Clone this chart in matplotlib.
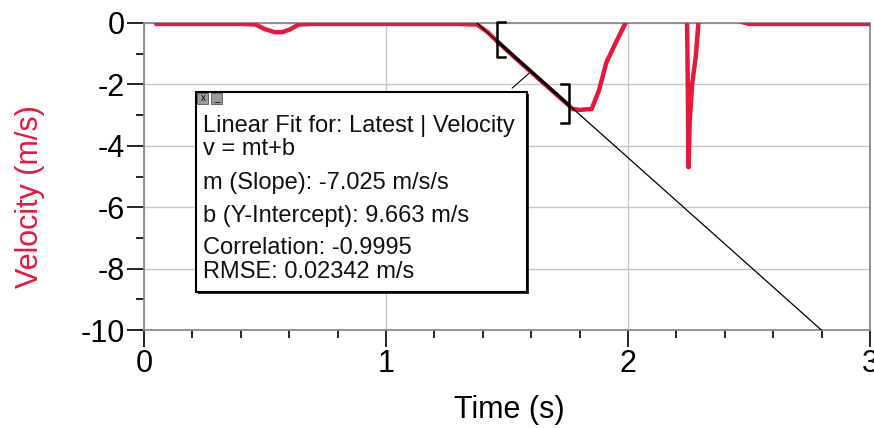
import numpy as np
import matplotlib
matplotlib.use("Agg")
from matplotlib import pyplot as plt
from matplotlib.patches import Rectangle

plt.rcParams['font.family'] = ['Liberation Sans', 'DejaVu Sans']
plt.rcParams['axes.unicode_minus'] = False

# velocity readings (s, m/s)
time = [0.05, 0.2, 0.4, 0.46, 0.5, 0.54, 0.57, 0.6, 0.64, 0.7, 1.0, 1.3, 1.376,
        1.42, 1.46, 1.55, 1.65, 1.75, 1.77, 1.8, 1.85, 1.88, 1.91, 1.955, 1.99, 2.02,
        2.1, 2.2, 2.244, 2.247, 2.25, 2.255, 2.265, 2.28, 2.292, 2.35, 2.5, 2.8, 3.0]
velocity = [-0.03, -0.03, -0.03, -0.05, -0.2, -0.3, -0.3, -0.22, -0.05, -0.03, -0.03, -0.03, -0.05,
            -0.3, -0.6, -1.25, -1.95, -2.65, -2.8, -2.83, -2.8, -2.2, -1.3, -0.55, 0.0, 0.3,
            0.3, 0.3, 0.1, -2.0, -4.7, -3.2, -2.0, -1.1, 0.1, 0.3, -0.03, -0.03, -0.03]

slope = -7.025
intercept = 9.663
fit_start, fit_end = 1.376, 2.8
sel_start, sel_end = 1.46, 1.755

fit_lines = ["Linear Fit for: Latest | Velocity",
             "v = mt+b",
             "m (Slope): -7.025 m/s/s",
             "b (Y-Intercept): 9.663 m/s",
             "Correlation: -0.9995",
             "RMSE: 0.02342 m/s"]

red = '#e8173c'
gray = '#8a8a8a'

fig = plt.figure(figsize=(8.74, 4.28), dpi=100)
ax = fig.add_axes([144 / 874, 1 - 330 / 428, 726 / 874, 307 / 428])

ax.plot(time, velocity, color=red, lw=3.2, solid_capstyle='round', zorder=3)

# fit line, thin over full range, thick over the selection
tf = np.array([fit_start, fit_end])
ax.plot(tf, slope * tf + intercept, color='black', lw=0.9, zorder=4)
ts = np.array([sel_start, sel_end])
ax.plot(ts, slope * ts + intercept, color='black', lw=2.2, zorder=4)

# selection brackets
ax.plot([sel_start + 0.03, sel_start, sel_start, sel_start + 0.03],
        [0.02, 0.02, -1.12, -1.12], color='black', lw=1.8, zorder=5, clip_on=False)
ax.plot([sel_end - 0.03, sel_end, sel_end, sel_end - 0.03],
        [-2.0, -2.0, -3.25, -3.25], color='black', lw=1.8, zorder=5)

ax.set_xlim(0, 3)
ax.set_ylim(-10, 0)
ax.set_xticks([0, 1, 2, 3])
ax.set_xticks(np.arange(0, 3.01, 0.2), minor=True)
ax.set_yticks([0, -2, -4, -6, -8, -10])
ax.set_yticks(np.arange(-9, 0, 2), minor=True)
ax.grid(True, which='major', color='#c8c8c8', lw=1)
for s in ax.spines.values():
    s.set_color(gray)
    s.set_linewidth(1.3)
ax.tick_params(which='major', direction='out', length=12, width=1.2, color='black',
               labelsize=22, pad=2)
ax.tick_params(which='minor', direction='out', length=6, width=1.2, color='black')
ax.set_xlabel('Time (s)', fontsize=22)
ax.set_ylabel('Velocity (m/s)', fontsize=22, color=red)
ax.xaxis.set_label_coords((509 - 144) / 726, (330 - 410) / 307)
ax.yaxis.set_label_coords((30 - 144) / 726, (330 - 197) / 307)
ax.xaxis.label.set_va('center')
ax.yaxis.label.set_va('center')

# annotation box
x0, x1 = (196 - 144) / 726, (527 - 144) / 726
y0, y1 = (330 - 292) / 307, (330 - 92) / 307
ax.add_patch(Rectangle((x0 + 0.003, y0 - 0.007), x1 - x0, y1 - y0, transform=ax.transAxes,
                       facecolor='#333333', edgecolor='none', zorder=6))
ax.add_patch(Rectangle((x0, y0), x1 - x0, y1 - y0, transform=ax.transAxes,
                       facecolor='white', edgecolor='black', lw=1.5, zorder=7))
for i, glyph in enumerate(['x', '_']):
    bx = x0 + 0.002 + i * 0.019
    ax.add_patch(Rectangle((bx, y1 - 0.04), 0.015, 0.038, transform=ax.transAxes,
                           facecolor='#9a9a9a', edgecolor='#555555', lw=0.6, zorder=8))
    ax.text(bx + 0.0075, y1 - 0.021, glyph, transform=ax.transAxes, fontsize=7,
            ha='center', va='center', zorder=9)
ypix = [126, 149, 183, 216, 248, 272]
for line, yp in zip(fit_lines, ypix):
    ax.text((203 - 144) / 726, (330 - yp) / 307, line, transform=ax.transAxes,
            fontsize=17, ha='left', va='center', color='#111111', zorder=9)

# pointer from box to fit line
tp = 1.6
ax.annotate('', xy=(tp, slope * tp + intercept), xytext=((510 - 144) / 726, (330 - 90) / 307),
            xycoords='data', textcoords='axes fraction',
            arrowprops=dict(arrowstyle='-', color='black', lw=0.8), zorder=5)

fig.savefig('out.png', dpi=100)
